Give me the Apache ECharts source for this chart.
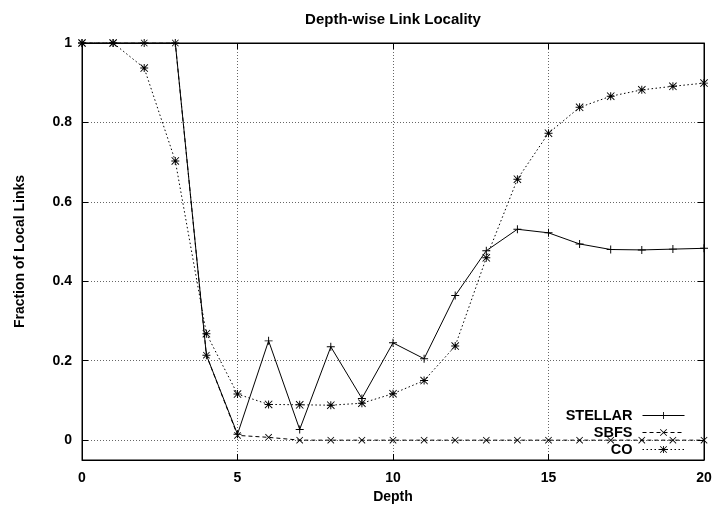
<!DOCTYPE html>
<html>
<head>
<meta charset="utf-8">
<script src="https://cdn.jsdelivr.net/npm/echarts@6/dist/echarts.min.js"></script>
<style>
html,body{margin:0;padding:0;background:#fff;}
#chart{width:716px;height:509px;}
</style>
</head>
<body>
<div id="chart"></div>
<script>
const depths = [0,1,2,3,4,5,6,7,8,9,10,11,12,13,14,15,16,17,18,19,20];
const stellar = [1,1,1,1,0.214,0.015,0.25,0.027,0.235,0.105,0.245,0.205,0.364,0.477,0.531,0.522,0.494,0.480,0.479,0.481,0.483];
const sbfs = [1,1,1,1,0.214,0.012,0.007,0,0,0,0,0,0,0,0,0,0,0,0,0,0];
const co = [1,1,0.937,0.703,0.268,0.116,0.090,0.089,0.088,0.093,0.117,0.150,0.237,0.459,0.657,0.773,0.838,0.866,0.882,0.891,0.899];
const yTicks = [0,0.2,0.4,0.6,0.8,1];
const xTicks = [0,5,10,15,20];

const FONT = '"Liberation Sans", Arial, sans-serif';
const PLUS = 'path://M0,4.4H10V5.6H0Z M4.4,0H5.6V10H4.4Z';
const CROSS = 'path://M0,0.8L0.8,0L10,9.2L9.2,10Z M9.2,0L10,0.8L0.8,10L0,9.2Z';
const STAR = 'path://M0,4.4H10V5.6H0Z M4.4,0H5.6V10H4.4Z M0,0.8L0.8,0L10,9.2L9.2,10Z M9.2,0L10,0.8L0.8,10L0,9.2Z';

function pairs(ys){ return depths.map((d,i)=>[d, ys[i]]); }
function yFmt(v){ if (Math.abs(v) < 1e-9) return '0'; if (Math.abs(v-1) < 1e-9) return '1'; return v.toFixed(1); }

const chart = echarts.init(document.getElementById('chart'), null, {renderer:'canvas'});
const gridLine = {show:true, lineStyle:{color:'#666', type:[1,2], width:1}};
chart.setOption({
  animation:false,
  backgroundColor:'#fff',
  title:{text:'Depth-wise Link Locality', left:393, textAlign:'center', top:12, padding:0,
    textStyle:{fontFamily:FONT, fontSize:15, fontWeight:'bold', color:'#000'}},
  grid:{left:82, right:12, top:43, bottom:49, show:true, borderColor:'#000', borderWidth:1, backgroundColor:'transparent'},
  legend:{
    orient:'vertical', right:31, top:408, align:'right', padding:0,
    itemWidth:42, itemHeight:9, itemGap:2,
    lineStyle:{width:1},
    textStyle:{fontFamily:FONT, fontSize:14.5, fontWeight:'bold', color:'#000', padding:[0,5,0,0]},
    data:['STELLAR','SBFS','CO']
  },
  xAxis:[{
    type:'value', min:0, max:20, interval:5, position:'bottom',
    name:'Depth', nameLocation:'middle', nameGap:30,
    nameTextStyle:{fontFamily:FONT, fontSize:14, fontWeight:'bold', color:'#000'},
    axisLine:{show:true, onZero:false, lineStyle:{color:'#000', width:1}},
    axisTick:{show:true, inside:true, length:6, lineStyle:{color:'#000'}},
    axisLabel:{fontFamily:FONT, fontSize:14, fontWeight:'bold', color:'#000', margin:11},
    splitLine:gridLine
  },{
    type:'value', min:0, max:20, interval:5, position:'top',
    axisLine:{show:true, onZero:false, lineStyle:{color:'#000', width:1}},
    axisTick:{show:true, inside:true, length:6, lineStyle:{color:'#000'}},
    axisLabel:{show:false}, splitLine:{show:false}
  }],
  yAxis:[{
    type:'value', min:-0.05, max:1, position:'left',
    name:'Fraction of Local Links', nameLocation:'middle', nameGap:55,
    nameTextStyle:{fontFamily:FONT, fontSize:14, fontWeight:'bold', color:'#000'},
    axisLine:{show:true, onZero:false, lineStyle:{color:'#000', width:1}},
    axisTick:{show:true, inside:true, length:6, customValues:yTicks, lineStyle:{color:'#000'}},
    axisLabel:{customValues:yTicks, formatter:yFmt, fontFamily:FONT, fontSize:14, fontWeight:'bold', color:'#000', margin:10},
    splitLine:gridLine
  },{
    type:'value', min:-0.05, max:1, position:'right',
    axisLine:{show:true, onZero:false, lineStyle:{color:'#000', width:1}},
    axisTick:{show:true, inside:true, length:6, customValues:yTicks, lineStyle:{color:'#000'}},
    axisLabel:{show:false}, splitLine:{show:false}
  }],
  series:[{
    name:'STELLAR', type:'line', xAxisIndex:0, yAxisIndex:0, data:pairs(stellar),
    symbol:PLUS, symbolSize:8, showSymbol:true,
    lineStyle:{color:'#000', width:1, type:'solid'}, itemStyle:{color:'#000'}
  },{
    name:'SBFS', type:'line', xAxisIndex:0, yAxisIndex:0, data:pairs(sbfs),
    symbol:CROSS, symbolSize:7, showSymbol:true,
    lineStyle:{color:'#000', width:1, type:[4,3]}, itemStyle:{color:'#000'}
  },{
    name:'CO', type:'line', xAxisIndex:0, yAxisIndex:0, data:pairs(co),
    symbol:STAR, symbolSize:8, showSymbol:true,
    lineStyle:{color:'#000', width:1, type:[1.5,2.5]}, itemStyle:{color:'#000'}
  }]
});
</script>
</body>
</html>
